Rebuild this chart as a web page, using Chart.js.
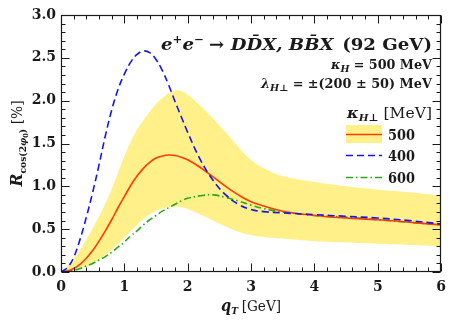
<!DOCTYPE html>
<html>
<head>
<meta charset="utf-8">
<script src="https://cdn.jsdelivr.net/npm/chart.js@4.4.1/dist/chart.umd.min.js"></script>
<style>
  html, body { margin: 0; padding: 0; background: #fff; }
  #wrap { width: 453px; height: 323px; }
</style>
</head>
<body>
<div id="wrap"><canvas id="c" width="453" height="323"></canvas></div>
<script>
// transverse momentum grid (GeV)
const qT = [0, 0.1, 0.2, 0.3, 0.4, 0.5, 0.6, 0.7, 0.8, 0.9, 1.0, 1.1, 1.2, 1.3, 1.4, 1.5, 1.6, 1.7, 1.8, 1.9, 2.0, 2.2, 2.4, 2.6, 2.8, 3.0, 3.2, 3.5, 4.0, 4.5, 5.0, 5.5, 6.0];

// R_cos(2phi0) in percent for kappa_H_perp = 500, 400, 600 MeV
const r500 = [0, 0.01, 0.04, 0.09, 0.16, 0.25, 0.36, 0.48, 0.61, 0.75, 0.88, 1.01, 1.12, 1.21, 1.28, 1.33, 1.355, 1.365, 1.36, 1.34, 1.31, 1.22, 1.11, 1.00, 0.90, 0.82, 0.77, 0.71, 0.66, 0.63, 0.61, 0.58, 0.55];
const r400 = [0, 0.05, 0.17, 0.38, 0.64, 0.93, 1.25, 1.59, 1.89, 2.13, 2.31, 2.45, 2.54, 2.58, 2.56, 2.48, 2.35, 2.18, 1.99, 1.81, 1.63, 1.31, 1.07, 0.90, 0.79, 0.73, 0.705, 0.69, 0.67, 0.65, 0.63, 0.60, 0.56];
const r600 = [0, 0.005, 0.02, 0.04, 0.07, 0.10, 0.14, 0.18, 0.23, 0.29, 0.35, 0.42, 0.48, 0.55, 0.61, 0.66, 0.71, 0.75, 0.79, 0.83, 0.86, 0.89, 0.90, 0.87, 0.83, 0.78, 0.74, 0.70, 0.66, 0.64, 0.61, 0.58, 0.55];

// uncertainty band for kappa_H_perp = 500 MeV (lambda_H_perp = 200 +- 50 MeV)
const band500Hi = [0, 0.07, 0.16, 0.26, 0.38, 0.51, 0.65, 0.80, 0.97, 1.16, 1.35, 1.52, 1.66, 1.77, 1.87, 1.96, 2.03, 2.09, 2.12, 2.11, 2.07, 1.94, 1.79, 1.63, 1.46, 1.31, 1.21, 1.12, 1.05, 1.00, 0.96, 0.93, 0.89];
const band500Lo = [0, 0.005, 0.015, 0.035, 0.065, 0.10, 0.145, 0.20, 0.26, 0.33, 0.40, 0.48, 0.55, 0.62, 0.67, 0.715, 0.74, 0.76, 0.765, 0.755, 0.735, 0.67, 0.60, 0.53, 0.47, 0.43, 0.41, 0.39, 0.36, 0.345, 0.33, 0.315, 0.30];

// axis ticks
const xTicks = [0, 1, 2, 3, 4, 5, 6];
const yTicks = [0, 0.5, 1.0, 1.5, 2.0, 2.5, 3.0];

const pts = arr => arr.map((v, i) => ({ x: qT[i], y: v }));

const SERIF = '"DejaVu Serif", "Liberation Serif", serif';
const INK = '#1a1a1a';
const YELLOW = '#fff08a';
const RED = '#ff3b0a';
const BLUE = '#1515f0';
const GREEN = '#2aa81a';

// draw a run of differently styled text pieces on one baseline,
// optionally squeezed or widened to a given total width
function rich(ctx, segs, x, y, align, fitW) {
  let w = 0;
  for (const s of segs) { ctx.font = s.f; w += ctx.measureText(s.t).width + (s.k || 0); }
  const sx = fitW ? fitW / w : 1;
  ctx.save();
  ctx.translate(x, y);
  ctx.scale(sx, 1);
  let cx = align === 'right' ? -w : align === 'center' ? -w / 2 : 0;
  for (const s of segs) {
    ctx.font = s.f;
    ctx.fillText(s.t, cx, s.dy || 0);
    cx += ctx.measureText(s.t).width + (s.k || 0);
  }
  ctx.restore();
}

// frame with inward ticks on all four sides
const framePlugin = {
  id: 'frame',
  afterDatasetsDraw(chart) {
    const { ctx, chartArea: a, scales: { x, y } } = chart;
    const L = Math.round(a.left) + 0.5, R = Math.round(a.right) - 0.5;
    const T = Math.round(a.top) + 0.5, B = Math.round(a.bottom) - 0.5;
    ctx.save();
    ctx.strokeStyle = INK;
    ctx.lineWidth = 1;
    ctx.beginPath();
    for (let i = 0; i <= 30; i++) {
      const px = Math.round(x.getPixelForValue(i * 0.2)) + 0.5;
      const len = (i % 5 === 0) ? 8 : 4;
      ctx.moveTo(px, B); ctx.lineTo(px, B - len);
      ctx.moveTo(px, T); ctx.lineTo(px, T + len);
    }
    for (let i = 0; i <= 30; i++) {
      const py = Math.round(y.getPixelForValue(i * 0.1)) + 0.5;
      const len = (i % 5 === 0) ? 8 : 4;
      ctx.moveTo(L, py); ctx.lineTo(L + len, py);
      ctx.moveTo(R, py); ctx.lineTo(R - len, py);
    }
    ctx.stroke();
    ctx.lineWidth = 1.2;
    ctx.strokeRect(L, T, R - L, B - T);
    ctx.restore();
  }
};

// axis titles, header text and legend
const textPlugin = {
  id: 'texts',
  afterDraw(chart) {
    const { ctx, chartArea: a } = chart;
    const ds = chart.data.datasets;
    ctx.save();
    ctx.fillStyle = INK;
    ctx.textBaseline = 'alphabetic';
    ctx.textAlign = 'left';

    // x axis title
    rich(ctx, [
      { t: 'q', f: `bold italic 16px ${SERIF}` },
      { t: 'T', f: `bold italic 10px ${SERIF}`, dy: 3, k: 4 },
      { t: '[GeV]', f: `15px ${SERIF}` }
    ], (a.left + a.right) / 2, 311, 'center', 60);

    // y axis title (rotated)
    ctx.save();
    ctx.translate(22, (a.top + a.bottom) / 2);
    ctx.rotate(-Math.PI / 2);
    rich(ctx, [
      { t: 'R', f: `bold italic 17px ${SERIF}` },
      { t: 'cos(2', f: `bold 10px ${SERIF}`, dy: 4 },
      { t: 'φ', f: `bold italic 10px ${SERIF}`, dy: 4 },
      { t: '0', f: `bold 7px ${SERIF}`, dy: 6 },
      { t: ')', f: `bold 10px ${SERIF}`, dy: 4, k: 5 },
      { t: '[%]', f: `15px ${SERIF}` }
    ], 0, 0, 'center', 86);
    ctx.restore();

    // process header
    const xr = 432;
    rich(ctx, [
      { t: 'e', f: `bold italic 17px ${SERIF}` },
      { t: '+', f: `bold 11px ${SERIF}`, dy: -7 },
      { t: 'e', f: `bold italic 17px ${SERIF}` },
      { t: '−', f: `bold 11px ${SERIF}`, dy: -7, k: 5 },
      { t: '→', f: `bold 17px ${SERIF}`, k: 6 },
      { t: 'DD\u0304X, BB\u0304X', f: `bold italic 17px ${SERIF}`, k: 8 },
      { t: '(92 GeV)', f: `bold 17px ${SERIF}` }
    ], xr, 50, 'right', 271);

    rich(ctx, [
      { t: 'κ', f: `bold italic 12px ${SERIF}` },
      { t: 'H', f: `bold italic 9px ${SERIF}`, dy: 3, k: 4 },
      { t: '=', f: `bold 12px ${SERIF}`, k: 4 },
      { t: '500 MeV', f: `bold 12px ${SERIF}` }
    ], xr, 69, 'right', 101);

    rich(ctx, [
      { t: 'λ', f: `bold italic 12px ${SERIF}` },
      { t: 'H⊥', f: `bold italic 9px ${SERIF}`, dy: 3, k: 4 },
      { t: '=', f: `bold 12px ${SERIF}`, k: 4 },
      { t: '±(200 ± 50) MeV', f: `bold 12px ${SERIF}` }
    ], xr, 88, 'right', 171);

    // legend
    rich(ctx, [
      { t: 'κ', f: `bold italic 15px ${SERIF}` },
      { t: 'H⊥', f: `bold italic 10px ${SERIF}`, dy: 3, k: 5 },
      { t: '[MeV]', f: `15px ${SERIF}` }
    ], xr, 118, 'right', 85);

    const sx0 = 346, sx1 = 382, tx = 388;
    const rows = [
      { ds: ds[0], label: '500', y: 134, band: true },
      { ds: ds[1], label: '400', y: 155 },
      { ds: ds[2], label: '600', y: 177 }
    ];
    for (const r of rows) {
      if (r.band) {
        ctx.fillStyle = YELLOW;
        ctx.fillRect(sx0, r.y - 9, sx1 - sx0, 18);
      }
      ctx.save();
      ctx.strokeStyle = r.ds.borderColor;
      ctx.lineWidth = r.ds.borderWidth;
      ctx.setLineDash(r.ds.borderDash || []);
      ctx.beginPath();
      ctx.moveTo(sx0, r.y + 0.5);
      ctx.lineTo(sx1, r.y + 0.5);
      ctx.stroke();
      ctx.restore();
      ctx.fillStyle = INK;
      rich(ctx, [{ t: r.label, f: `bold 14px ${SERIF}` }], tx, r.y + 6, 'left', 27);
    }
    ctx.restore();
  }
};

const lineBase = { pointRadius: 0, fill: false, tension: 0.4 };

new Chart(document.getElementById('c'), {
  type: 'line',
  data: {
    datasets: [
      { ...lineBase, label: '500', data: pts(r500), borderColor: RED, borderWidth: 1.6, order: 2 },
      { ...lineBase, label: '400', data: pts(r400), borderColor: BLUE, borderWidth: 1.6, borderDash: [7, 4], order: 1 },
      { ...lineBase, label: '600', data: pts(r600), borderColor: GREEN, borderWidth: 1.6, borderDash: [7, 3, 1.5, 3], order: 3 },
      { ...lineBase, label: 'band hi', data: pts(band500Hi), borderWidth: 0, borderColor: 'rgba(0,0,0,0)', backgroundColor: YELLOW, fill: '+1', order: 10 },
      { ...lineBase, label: 'band lo', data: pts(band500Lo), borderWidth: 0, borderColor: 'rgba(0,0,0,0)', order: 11 }
    ]
  },
  options: {
    responsive: false,
    animation: false,
    devicePixelRatio: 1,
    layout: { padding: { top: 15, right: 6, bottom: 0, left: 0 } },
    plugins: { legend: { display: false }, tooltip: { enabled: false } },
    scales: {
      x: {
        type: 'linear', min: 0, max: 6,
        afterBuildTicks: s => { s.ticks = xTicks.map(v => ({ value: v })); },
        afterFit: s => { s.height = 51; },
        grid: { display: false, drawTicks: false },
        border: { display: false },
        ticks: { padding: 7, color: INK, font: { family: SERIF, size: 14, weight: 'bold' }, callback: v => String(v) }
      },
      y: {
        type: 'linear', min: 0, max: 3,
        afterBuildTicks: s => { s.ticks = yTicks.map(v => ({ value: v })); },
        afterFit: s => { s.width = 61; },
        grid: { display: false, drawTicks: false },
        border: { display: false },
        ticks: { padding: 5, color: INK, font: { family: SERIF, size: 14, weight: 'bold' }, callback: v => Number(v).toFixed(1) }
      }
    }
  },
  plugins: [framePlugin, textPlugin]
});
</script>
</body>
</html>
